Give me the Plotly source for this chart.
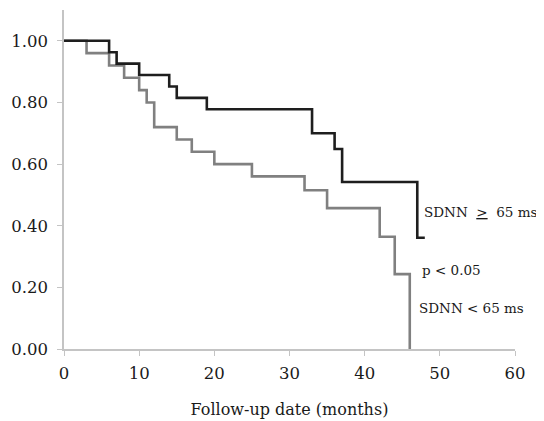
import plotly.graph_objects as go

# Kaplan-Meier step data
high_months = [0, 6, 7, 10, 14, 15, 19, 33, 36, 37, 47, 48]
high_surv = [1.00, 0.963, 0.926, 0.889, 0.852, 0.815, 0.778, 0.700, 0.649, 0.542, 0.361, 0.361]

low_months = [0, 3, 6, 8, 10, 11, 12, 15, 17, 20, 25, 32, 35, 42, 44, 46]
low_surv = [1.00, 0.96, 0.92, 0.88, 0.84, 0.80, 0.72, 0.68, 0.64, 0.60, 0.56, 0.515, 0.457, 0.364, 0.243, 0.0]

x_ticks = [0, 10, 20, 30, 40, 50, 60]
y_ticks = [0.0, 0.2, 0.4, 0.6, 0.8, 1.0]
y_tick_text = ["0.00", "0.20", "0.40", "0.60", "0.80", "1.00"]

FONT = "DejaVu Serif"

fig = go.Figure()
fig.add_trace(go.Scatter(x=low_months, y=low_surv, mode="lines", line_shape="hv",
                         line=dict(color="#808080", width=2.6), showlegend=False))
fig.add_trace(go.Scatter(x=high_months, y=high_surv, mode="lines", line_shape="hv",
                         line=dict(color="#1e1e1e", width=2.6), showlegend=False))

fig.update_layout(
    width=536, height=413,
    margin=dict(l=56, r=29, t=2, b=72, autoexpand=False),
    paper_bgcolor="white", plot_bgcolor="white",
    font=dict(family=FONT, size=16.5, color="#1a1a1a"),
    xaxis=dict(range=[0, 60], tickvals=x_ticks, showgrid=False, zeroline=False,
               showline=True, linecolor="#c4c4c4", linewidth=1.5,
               ticks="outside", ticklen=5, tickcolor="#c4c4c4", tickwidth=1,
               ticklabelstandoff=3,
               title=dict(text="Follow-up date (months)", standoff=22,
                          font=dict(family=FONT, size=16))),
    yaxis=dict(range=[0, 1.1], tickvals=y_ticks, ticktext=y_tick_text, showgrid=False,
               zeroline=False, showline=True, linecolor="#c4c4c4", linewidth=1.5,
               ticks="outside", ticklen=5, tickcolor="#c4c4c4", tickwidth=1,
               ticklabelstandoff=6),
    annotations=[
        dict(x=47.6, y=0.445, xref="x", yref="y", text="SDNN  <u>></u>  65 ms",
             showarrow=False, xanchor="left", yanchor="middle", font=dict(size=13.5)),
        dict(x=47.4, y=0.257, xref="x", yref="y", text="p < 0.05",
             showarrow=False, xanchor="left", yanchor="middle", font=dict(size=13.5)),
        dict(x=47.0, y=0.133, xref="x", yref="y", text="SDNN < 65 ms",
             showarrow=False, xanchor="left", yanchor="middle", font=dict(size=13.5)),
    ],
)

fig.write_html("out.html")
